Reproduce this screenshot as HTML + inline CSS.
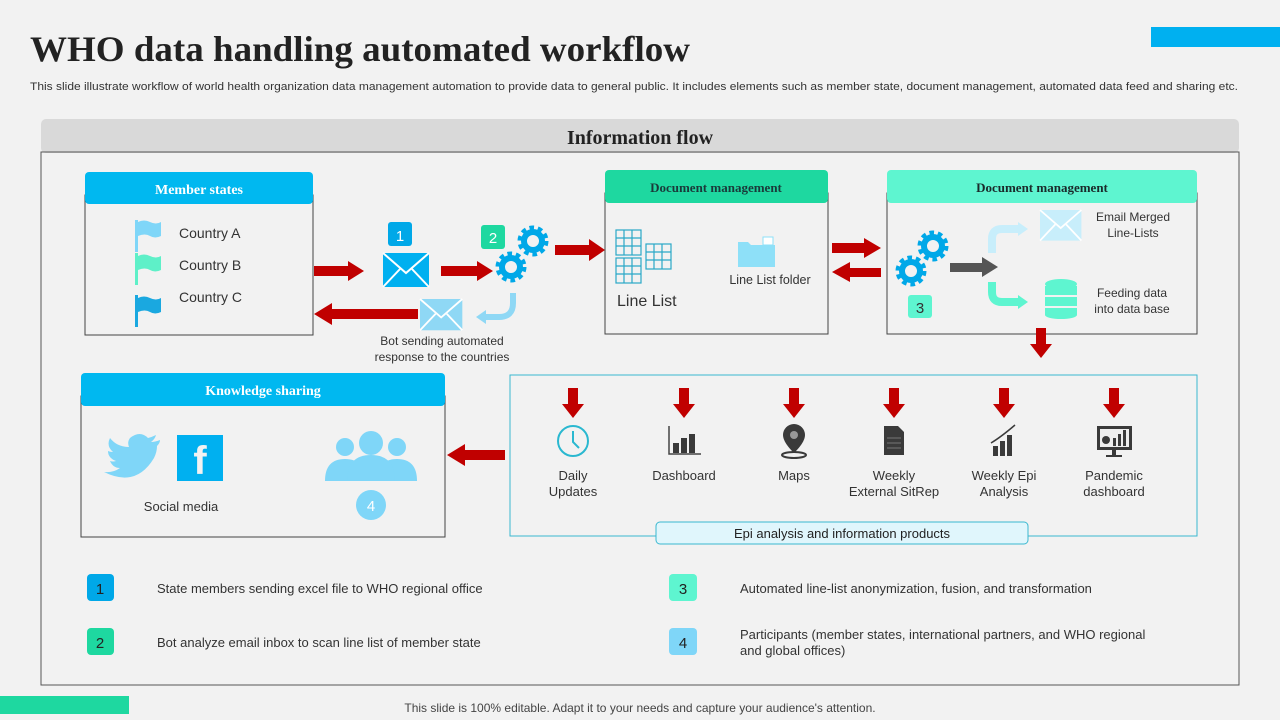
<!DOCTYPE html>
<html><head><meta charset="utf-8"><style>
html,body{margin:0;padding:0;background:#f2f2f2;}
svg{display:block;font-family:"Liberation Sans",sans-serif;}
.s{font-family:"Liberation Serif",serif;font-weight:bold;}
</style></head><body>
<svg width="1280" height="720" viewBox="0 0 1280 720" xmlns="http://www.w3.org/2000/svg">
<defs>
<g id="gear"><circle r="9" fill="none" stroke="#00a8e8" stroke-width="6"/><circle r="13" fill="none" stroke="#00a8e8" stroke-width="5" stroke-dasharray="4.5 3.7"/></g>
<g id="env"><rect x="0" y="0" width="46" height="34" fill="currentColor"/><polyline points="0,0 23,20 46,0" fill="none" stroke="#fff" stroke-width="2"/><line x1="0" y1="34" x2="17" y2="16" stroke="#fff" stroke-width="2"/><line x1="46" y1="34" x2="29" y2="16" stroke="#fff" stroke-width="2"/></g>
<g id="dn"><rect x="-5" y="0" width="10" height="18" fill="#c00000"/><polygon points="-11,16 11,16 0,30" fill="#c00000"/></g>
</defs>
<rect width="1280" height="720" fill="#f2f2f2"/>
<rect x="1151" y="27" width="129" height="20" fill="#00b0f0"/>
<rect x="0" y="696" width="129" height="18" fill="#1ed8a0"/>
<text x="30" y="61" class="s" font-size="36" fill="#222" textLength="660" lengthAdjust="spacingAndGlyphs">WHO data handling automated  workflow</text>
<text x="30" y="90" font-size="11" fill="#333" textLength="1208" lengthAdjust="spacingAndGlyphs">This slide illustrate workflow of world health organization data management automation to provide data to  general public. It includes elements such as member state, document management, automated data feed and sharing etc.</text>
<rect x="41" y="119" width="1198" height="34" rx="5" fill="#d9d9d9"/>
<text x="640" y="144" text-anchor="middle" class="s" font-size="20" fill="#222">Information  flow</text>
<rect x="41" y="152" width="1198" height="533" fill="none" stroke="#555" stroke-width="1"/>

<!-- Member states -->
<rect x="85" y="195" width="228" height="140" fill="#f2f2f2" stroke="#444"/>
<rect x="85" y="172" width="228" height="32" rx="4" fill="#00b8f0"/>
<text x="199" y="194" text-anchor="middle" class="s" font-size="14" fill="#fff">Member states</text>
<g>
<rect x="135" y="220" width="3" height="32" fill="#7fd6f8"/><path d="M138 222 q6 -3 12 0 t11 0 v14 q-6 3 -11 0 t-12 0z" fill="#7fd6f8"/>
<rect x="135" y="253" width="3" height="32" fill="#5ef0c8"/><path d="M138 256 q6 -3 12 0 t11 0 v14 q-6 3 -11 0 t-12 0z" fill="#5ef0c8"/>
<rect x="135" y="295" width="3" height="32" fill="#1aa8e0"/><path d="M138 298 q6 -3 12 0 t11 0 v14 q-6 3 -11 0 t-12 0z" fill="#1aa8e0"/>
</g>
<text x="179" y="238" font-size="14" fill="#333">Country A</text>
<text x="179" y="270" font-size="14" fill="#333">Country B</text>
<text x="179" y="302" font-size="14" fill="#333">Country C</text>

<g fill="#c00000">
<polygon points="314,266 348,266 348,261 364,271 348,281 348,276 314,276"/>
<polygon points="441,266 477,266 477,261 493,271 477,281 477,276 441,276"/>
<polygon points="555,245 589,245 589,239 605,250 589,261 589,255 555,255"/>
<polygon points="418,309 332,309 332,303 314,314 332,325 332,319 418,319"/>
<polygon points="677,248 710,248 710,243 726,253 710,263 710,258 677,258"/>
<polygon points="832,243 864,243 864,238 881,248 864,258 864,253 832,253"/>
<polygon points="881,268 850,268 850,262 832,272 850,282 850,277 881,277"/>
<polygon points="505,450 465,450 465,444 447,455 465,466 465,460 505,460"/>
</g>
<rect x="388" y="222" width="24" height="24" rx="3" fill="#00a8e8"/><text x="400" y="241" text-anchor="middle" font-size="15" fill="#fff">1</text>
<g color="#00b0f0" transform="translate(383,253)"><use href="#env"/></g>
<rect x="481" y="225" width="24" height="24" rx="3" fill="#1ed8a0"/><text x="493" y="243" text-anchor="middle" font-size="15" fill="#fff">2</text>
<use href="#gear" x="533" y="241"/><use href="#gear" x="511" y="267"/>
<path d="M513 293 v10 q0 14 -14 14 h-14" fill="none" stroke="#8fd8f5" stroke-width="6"/>
<polygon points="486,310 476,317 486,324" fill="#8fd8f5"/>
<g color="#8fd8f5" transform="translate(420,299)"><use href="#env" transform="scale(0.92)"/></g>
<text x="442" y="345" text-anchor="middle" font-size="12" fill="#333">Bot sending automated</text>
<text x="442" y="361" text-anchor="middle" font-size="12" fill="#333">response to the countries</text>

<rect x="605" y="193" width="223" height="141" fill="#f2f2f2" stroke="#444"/>
<rect x="605" y="170" width="223" height="33" rx="4" fill="#1ed8a0"/>
<text x="716" y="192" text-anchor="middle" class="s" font-size="13" fill="#1a3a3a">Document management</text>
<g fill="none" stroke="#2aa8c8" stroke-width="1.2">
<rect x="616" y="230" width="25" height="25"/><path d="M624 230v25M632 230v25M616 238h25M616 246h25"/>
<rect x="616" y="258" width="25" height="25"/><path d="M624 258v25M632 258v25M616 266h25M616 274h25"/>
<rect x="646" y="244" width="25" height="25"/><path d="M654 244v25M662 244v25M646 252h25M646 260h25"/>
</g>
<text x="617" y="306" font-size="16" fill="#333">Line List</text>
<path d="M738 242 h10 l3 3 h24 v22 h-37z" fill="#8ee0f8"/><rect x="763" y="237" width="10" height="8" fill="#fff" stroke="#8ee0f8"/>
<text x="770" y="284" text-anchor="middle" font-size="12.5" fill="#333">Line  List folder</text>

<rect x="887" y="193" width="310" height="141" fill="#f2f2f2" stroke="#444"/>
<rect x="887" y="170" width="310" height="33" rx="4" fill="#5ef5d0"/>
<text x="1042" y="192" text-anchor="middle" class="s" font-size="13" fill="#1a2a2a">Document management</text>
<use href="#gear" x="933" y="246"/><use href="#gear" x="911" y="271"/>
<rect x="908" y="295" width="24" height="23" rx="3" fill="#5ef5d0"/><text x="920" y="313" text-anchor="middle" font-size="15" fill="#333">3</text>
<polygon points="950,263 982,263 982,257 998,267 982,277 982,272 950,272" fill="#555"/>
<path d="M992 253 v-14 q0 -10 10 -10 h18" fill="none" stroke="#c8eefb" stroke-width="8"/><polygon points="1018,222 1028,229 1018,236" fill="#c8eefb"/>
<path d="M992 282 v10 q0 10 10 10 h18" fill="none" stroke="#5ef5d0" stroke-width="8"/><polygon points="1018,295 1028,302 1018,309" fill="#5ef5d0"/>
<g color="#c8eefb" transform="translate(1040,210)"><use href="#env" transform="scale(0.9)"/></g>
<g fill="#5ef5d0"><ellipse cx="1061" cy="284" rx="16" ry="5"/><rect x="1045" y="286" width="32" height="9"/><rect x="1045" y="297" width="32" height="9"/><rect x="1045" y="308" width="32" height="7"/><ellipse cx="1061" cy="315" rx="16" ry="4"/></g>
<text x="1133" y="221" text-anchor="middle" font-size="12" fill="#333">Email Merged</text>
<text x="1133" y="237" text-anchor="middle" font-size="12" fill="#333">Line-Lists</text>
<text x="1132" y="297" text-anchor="middle" font-size="12" fill="#333">Feeding data</text>
<text x="1132" y="313" text-anchor="middle" font-size="12" fill="#333">into data base</text>
<use href="#dn" x="1041" y="328"/>

<rect x="510" y="375" width="687" height="161" fill="none" stroke="#3ab8d0"/>
<use href="#dn" x="573" y="388"/><use href="#dn" x="684" y="388"/><use href="#dn" x="794" y="388"/><use href="#dn" x="894" y="388"/><use href="#dn" x="1004" y="388"/><use href="#dn" x="1114" y="388"/>
<circle cx="573" cy="441" r="15" fill="none" stroke="#2ab8d0" stroke-width="2"/><path d="M573 431v11l6 6" fill="none" stroke="#2ab8d0" stroke-width="2"/>
<path d="M669 426v28h32" fill="none" stroke="#444" stroke-width="1.5"/><g fill="#3a3a3a"><rect x="673" y="443" width="6" height="10"/><rect x="681" y="438" width="6" height="15"/><rect x="689" y="434" width="6" height="19"/></g>
<path d="M794 424 a11 11 0 0 1 11 11 c0 8 -11 18 -11 18 c0 0 -11 -10 -11 -18 a11 11 0 0 1 11 -11z" fill="#3a3a3a"/><circle cx="794" cy="435" r="4" fill="#999"/><ellipse cx="794" cy="455" rx="12" ry="3" fill="none" stroke="#3a3a3a" stroke-width="2"/>
<path d="M884 426h14l6 6v23h-20z" fill="#3a3a3a"/><g stroke="#777"><line x1="887" y1="438" x2="901" y2="438"/><line x1="887" y1="443" x2="901" y2="443"/><line x1="887" y1="448" x2="901" y2="448"/></g>
<g fill="#3a3a3a"><rect x="993" y="446" width="5" height="10"/><rect x="1000" y="441" width="5" height="15"/><rect x="1007" y="435" width="5" height="21"/></g><path d="M991 443 q10 -6 24 -18" fill="none" stroke="#3a3a3a" stroke-width="1.5"/>
<rect x="1097" y="426" width="35" height="24" fill="#3a3a3a"/><rect x="1100" y="429" width="29" height="18" fill="#eee"/><circle cx="1106" cy="440" r="4" fill="#3a3a3a"/><g fill="#3a3a3a"><rect x="1113" y="438" width="3" height="8"/><rect x="1118" y="434" width="3" height="12"/><rect x="1123" y="430" width="3" height="16"/></g><rect x="1112" y="450" width="4" height="5" fill="#3a3a3a"/><rect x="1106" y="455" width="16" height="2" fill="#3a3a3a"/>
<g font-size="13" fill="#333" text-anchor="middle">
<text x="573" y="480">Daily</text><text x="573" y="496">Updates</text>
<text x="684" y="480">Dashboard</text>
<text x="794" y="480">Maps</text>
<text x="894" y="480">Weekly</text><text x="894" y="496">External SitRep</text>
<text x="1004" y="480">Weekly Epi</text><text x="1004" y="496">Analysis</text>
<text x="1114" y="480">Pandemic</text><text x="1114" y="496">dashboard</text>
</g>
<rect x="656" y="522" width="372" height="22" rx="4" fill="#e0f6fc" stroke="#3ab8d0"/>
<text x="842" y="538" text-anchor="middle" font-size="13" fill="#222">Epi analysis and information  products</text>

<rect x="81" y="396" width="364" height="141" fill="#f2f2f2" stroke="#444"/>
<rect x="81" y="373" width="364" height="33" rx="4" fill="#00b8f0"/>
<text x="263" y="395" text-anchor="middle" class="s" font-size="14" fill="#fff">Knowledge sharing</text>
<path d="M160 440 q-5 2 -9 2 q4 -3 5 -7 q-4 2 -8 3 q-8 -8 -18 0 q-3 4 -1 9 q-12 0 -19 -9 q-4 8 3 14 q-3 0 -5 -1 q0 7 8 10 q-3 1 -6 0 q3 7 10 7 q-7 5 -16 4 q32 16 50 -14 q3 -6 3 -12 q3 -3 3 -6z" fill="#7fd6f8"/>
<rect x="177" y="435" width="46" height="46" fill="#00b0f0"/><text x="200" y="474" text-anchor="middle" font-size="40" font-weight="bold" fill="#f2f2f2">f</text>
<g fill="#7fd6f8"><circle cx="345" cy="447" r="9"/><circle cx="397" cy="447" r="9"/><circle cx="371" cy="443" r="12"/><path d="M325 481 q0 -22 20 -22 q20 0 20 22z"/><path d="M377 481 q0 -22 20 -22 q20 0 20 22z"/><path d="M347 481 q0 -26 24 -26 q24 0 24 26z"/></g>
<circle cx="371" cy="505" r="15" fill="#7fd6f8"/><text x="371" y="511" text-anchor="middle" font-size="15" fill="#fff">4</text>
<text x="181" y="511" text-anchor="middle" font-size="13" fill="#333">Social media</text>

<rect x="87" y="574" width="27" height="27" rx="4" fill="#00a8e8"/><text x="100" y="594" text-anchor="middle" font-size="15" fill="#222">1</text>
<rect x="87" y="628" width="27" height="27" rx="4" fill="#1ed8a0"/><text x="100" y="648" text-anchor="middle" font-size="15" fill="#222">2</text>
<rect x="669" y="574" width="28" height="27" rx="4" fill="#5ef5d0"/><text x="683" y="594" text-anchor="middle" font-size="15" fill="#222">3</text>
<rect x="669" y="628" width="28" height="27" rx="4" fill="#7fd6f8"/><text x="683" y="648" text-anchor="middle" font-size="15" fill="#222">4</text>
<g font-size="13" fill="#333">
<text x="157" y="593">State members  sending  excel file  to WHO regional  office</text>
<text x="157" y="647">Bot analyze  email inbox to scan line list of member  state</text>
<text x="740" y="593">Automated line-list anonymization, fusion, and transformation</text>
<text x="740" y="639">Participants (member states, international partners, and WHO regional</text>
<text x="740" y="655">and global offices)</text>
</g>
<text x="640" y="712" text-anchor="middle" font-size="12" fill="#444">This slide is 100% editable. Adapt it to your needs and capture your audience's attention.</text>
</svg>
</body></html>
